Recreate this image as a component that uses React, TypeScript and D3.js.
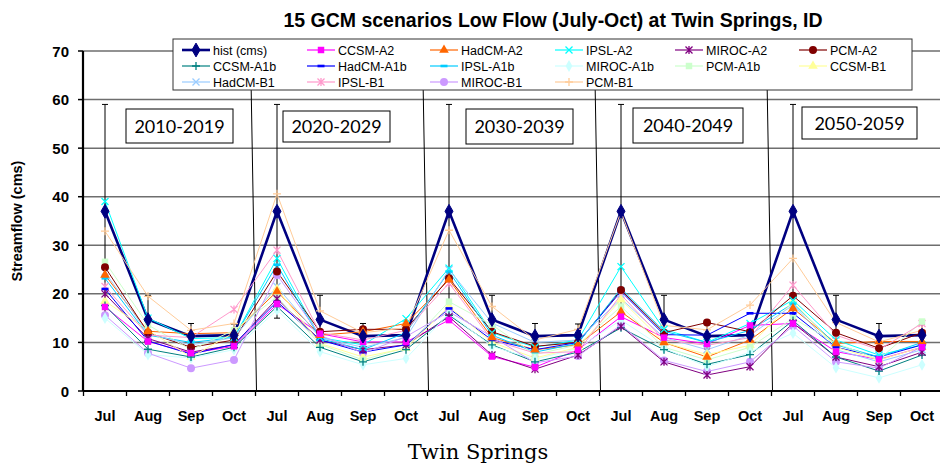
import * as d3 from "d3";

const W = 940;
const H = 464;

const months = ["Jul", "Aug", "Sep", "Oct"];
const decades = ["2010-2019", "2020-2029", "2030-2039", "2040-2049", "2050-2059"];
const yTicks = [0, 10, 20, 30, 40, 50, 60, 70];

// hist (cms) with its whiskers, repeated in each decade panel
const hist = [37, 14.7, 11.3, 11.5, 37, 14.7, 11.3, 11.5, 37, 14.7, 11.3, 11.5, 37, 14.7, 11.3, 11.5, 37, 14.7, 11.3, 11.5];
const histErr = [22, 5, 2.6, 2.3, 22, 5, 2.6, 2.3, 22, 5, 2.6, 2.3, 22, 5, 2.6, 2.3, 22, 5, 2.6, 2.3];

const ccsmA2 = [17.3, 10.2, 7.8, 9.2, 17.9, 11.8, 10.1, 10.1, 14.6, 7.1, 4.9, 8.5, 15.3, 11.0, 9.7, 13.5, 13.9, 8.1, 6.5, 9.0];
const hadcmA2 = [23.9, 12.3, 11.8, 12.0, 20.5, 11.5, 12.2, 13.9, 22.9, 11.0, 8.5, 9.5, 16.3, 10.0, 7.0, 10.5, 17.0, 9.8, 10.2, 10.2];
const ipslA2 = [39, 15, 10.8, 11.0, 27.3, 11.0, 9.5, 14.9, 25.3, 12.0, 9.0, 10.5, 25.6, 12.7, 10.0, 13.9, 18.7, 10.5, 7.4, 9.5];
const mirocA2 = [20, 10.8, 8.0, 9.5, 19.0, 10.5, 8.5, 9.5, 15.3, 7.4, 4.5, 7.4, 13.3, 6.0, 3.3, 5.0, 14.0, 7.0, 5.0, 8.0];
const pcmA2 = [25.5, 12.0, 9.0, 10.5, 24.6, 12.2, 12.7, 12.7, 23.2, 12.2, 9.2, 10.0, 20.8, 12.0, 14.1, 12.2, 19.6, 12.0, 8.8, 12.0];
const ccsmA1b = [17.6, 8.6, 7.0, 9.0, 17.4, 9.0, 6.0, 8.5, 15.6, 9.5, 6.0, 8.0, 13.0, 8.5, 5.5, 7.5, 14.5, 7.0, 4.1, 7.4];
const hadcmA1b = [21, 10.3, 7.6, 9.6, 18.4, 10.5, 8.0, 9.5, 17.0, 10.5, 8.5, 10.0, 20.5, 11.6, 11.5, 16.0, 16.0, 9.0, 7.0, 9.5];
const ipslA1b = [23.2, 11.5, 10.0, 11.0, 26.0, 10.8, 8.5, 12.0, 24.6, 11.5, 8.0, 9.8, 21.1, 12.3, 10.0, 12.5, 18.0, 9.5, 7.0, 10.0];
const mirocA1b = [15, 7.5, 6.8, 8.5, 16.7, 8.1, 5.4, 6.7, 16.0, 9.2, 6.5, 8.8, 14.6, 8.8, 5.0, 8.0, 11.9, 4.8, 2.7, 5.4];
const pcmA1b = [26.6, 13.6, 8.5, 12.5, 19.4, 9.6, 6.4, 9.0, 18.4, 13.6, 7.5, 9.5, 17.4, 9.0, 6.4, 9.0, 15.0, 9.8, 6.5, 14.3];
const ccsmB1 = [18.5, 12.5, 7.0, 12.0, 21.0, 9.8, 7.0, 8.8, 17.4, 10.0, 6.8, 9.0, 18.8, 10.0, 7.5, 9.4, 18.4, 9.0, 6.4, 9.0];
const hadcmB1 = [24.5, 11.8, 9.5, 11.0, 21.5, 11.0, 9.0, 11.0, 25.0, 14.0, 10.0, 10.5, 19.0, 11.0, 8.5, 11.5, 17.7, 8.5, 6.0, 8.5];
const ipslB1 = [21.5, 11.5, 11.0, 16.8, 29.0, 12.0, 10.5, 12.5, 22.2, 10.5, 7.8, 8.1, 19.8, 10.5, 9.4, 11.0, 21.8, 11.5, 8.5, 13.9];
const mirocB1 = [15.6, 7.8, 4.7, 6.4, 23.9, 11.5, 7.8, 11.2, 16.3, 11.2, 5.8, 7.2, 13.6, 6.3, 4.0, 6.0, 13.4, 6.0, 4.7, 9.1];
const pcmB1 = [32.9, 19.5, 12.5, 13.9, 40.6, 16.5, 12.0, 13.0, 33.1, 17.4, 10.5, 12.7, 36.9, 13.5, 12.6, 17.7, 27.3, 14.1, 10.1, 12.5];

type Mark = "diamond" | "square" | "triangle" | "x" | "asterisk" | "circle" | "plus" | "dash";
interface Series { name: string; values: number[]; color: string; mark: Mark; }

const series: Series[] = [
  { name: "hist (cms)", values: hist, color: "#000080", mark: "diamond" },
  { name: "CCSM-A2", values: ccsmA2, color: "#FF00FF", mark: "square" },
  { name: "HadCM-A2", values: hadcmA2, color: "#FF6600", mark: "triangle" },
  { name: "IPSL-A2", values: ipslA2, color: "#00FFFF", mark: "x" },
  { name: "MIROC-A2", values: mirocA2, color: "#800080", mark: "asterisk" },
  { name: "PCM-A2", values: pcmA2, color: "#800000", mark: "circle" },
  { name: "CCSM-A1b", values: ccsmA1b, color: "#008080", mark: "plus" },
  { name: "HadCM-A1b", values: hadcmA1b, color: "#0000FF", mark: "dash" },
  { name: "IPSL-A1b", values: ipslA1b, color: "#00CCFF", mark: "dash" },
  { name: "MIROC-A1b", values: mirocA1b, color: "#CCFFFF", mark: "diamond" },
  { name: "PCM-A1b", values: pcmA1b, color: "#CCFFCC", mark: "square" },
  { name: "CCSM-B1", values: ccsmB1, color: "#FFFF99", mark: "triangle" },
  { name: "HadCM-B1", values: hadcmB1, color: "#99CCFF", mark: "x" },
  { name: "IPSL-B1", values: ipslB1, color: "#FF99CC", mark: "asterisk" },
  { name: "MIROC-B1", values: mirocB1, color: "#CC99FF", mark: "circle" },
  { name: "PCM-B1", values: pcmB1, color: "#FFCC99", mark: "plus" },
];

const categories = d3.range(20);
const x = d3.scaleBand<number>().domain(categories).range([83.5, 943.5]);
const y = d3.scaleLinear().domain([0, 70]).range([391, 51]);
const cx = (i: number) => (x(i) as number) + x.bandwidth() / 2;

const sym = (type: d3.SymbolType, size: number) => d3.symbol().type(type).size(size)() as string;

function Marker({ mark, color, big }: { mark: Mark; color: string; big?: boolean }) {
  switch (mark) {
    case "diamond":
      return <path d={sym(d3.symbolDiamond, big ? 55 : 40)} fill={color} stroke={color} strokeWidth={big ? 1 : 0} />;
    case "square":
      return <path d={sym(d3.symbolSquare, 42)} fill={color} />;
    case "triangle":
      return <path d={sym(d3.symbolTriangle, 40)} fill={color} />;
    case "circle":
      return <path d={sym(d3.symbolCircle, 50)} fill={color} />;
    case "x":
      return <path d="M-3.5,-3.5L3.5,3.5M-3.5,3.5L3.5,-3.5" stroke={color} strokeWidth={1.3} fill="none" />;
    case "asterisk":
      return <path d="M-3.5,-3.5L3.5,3.5M-3.5,3.5L3.5,-3.5M0,-4V4" stroke={color} strokeWidth={1.3} fill="none" />;
    case "plus":
      return <path d="M-4,0H4M0,-4V4" stroke={color} strokeWidth={1.3} fill="none" />;
    case "dash":
      return <rect x={-3.5} y={-1.3} width={7} height={2.6} fill={color} />;
  }
}

const decadeBoxes = [
  { x0: 126, y0: 109, w: 107, h: 34 },
  { x0: 283, y0: 111, w: 107, h: 31 },
  { x0: 466, y0: 109, w: 107, h: 35 },
  { x0: 633, y0: 108, w: 110, h: 35 },
  { x0: 802, y0: 107, w: 115, h: 32 },
];

export default function App() {
  const line = d3.line<number>().x((_, i) => cx(i)).y((v) => y(v));
  const dividers = [4, 8, 12, 16].map((i) => x(i) as number);

  const legendCols = [182, 307, 430, 555, 675, 799];
  const legendRows = [50, 66, 82];

  return (
    <svg width={W} height={H} style={{ position: "absolute", left: 0, top: 0, background: "#fff" }} fontFamily="Arial, 'Liberation Sans', sans-serif">
      <rect width={W} height={H} fill="#fff" />
      <text x={553} y={27} textAnchor="middle" fontWeight="bold" fontSize={19.5}>
        15 GCM scenarios Low Flow (July-Oct) at Twin Springs, ID
      </text>

      {yTicks.map((t) => (
        <g key={t}>
          {t > 0 && <line x1={83} x2={W} y1={y(t)} y2={y(t)} stroke="#6e6e6e" strokeWidth={1.5} />}
          <line x1={78} x2={83} y1={y(t)} y2={y(t)} stroke="#000" strokeWidth={1.5} />
          <text x={69} y={y(t) + 5.5} textAnchor="end" fontWeight="bold" fontSize={15}>{t}</text>
        </g>
      ))}

      {dividers.map((d, i) => (
        <line key={i} x1={d - 5} y1={y(70)} x2={d + 1} y2={y(0)} stroke="#000" strokeWidth={1} />
      ))}

      {series.map((s, si) => (
        <path key={s.name} d={line(s.values) as string} fill="none" stroke={s.color} strokeWidth={si === 0 ? 2.6 : 1} />
      ))}

      {hist.map((v, i) => (
        <g key={i} stroke="#000" strokeWidth={1}>
          <line x1={cx(i)} x2={cx(i)} y1={y(v + histErr[i])} y2={y(v - histErr[i])} />
          <line x1={cx(i) - 3} x2={cx(i) + 3} y1={y(v + histErr[i])} y2={y(v + histErr[i])} />
          <line x1={cx(i) - 3} x2={cx(i) + 3} y1={y(v - histErr[i])} y2={y(v - histErr[i])} />
        </g>
      ))}

      {series.slice().reverse().map((s) => (
        <g key={s.name}>
          {s.values.map((v, i) => (
            <g key={i} transform={`translate(${cx(i)},${y(v)})`}>
              <Marker mark={s.mark} color={s.color} big={s.name === "hist (cms)"} />
            </g>
          ))}
        </g>
      ))}

      <line x1={83} x2={83} y1={y(70)} y2={y(0)} stroke="#000" strokeWidth={2.2} />
      <line x1={83} x2={W} y1={y(0)} y2={y(0)} stroke="#000" strokeWidth={2.2} />
      {d3.range(21).map((i) => (
        <line key={i} x1={83.5 + i * x.step()} x2={83.5 + i * x.step()} y1={y(0)} y2={y(0) + 5} stroke="#000" strokeWidth={1.3} />
      ))}
      {categories.map((i) => (
        <text key={i} x={cx(i)} y={421} textAnchor="middle" fontWeight="bold" fontSize={14.5}>
          {months[i % 4]}
        </text>
      ))}

      <text transform={`translate(22,${y(35)}) rotate(-90)`} textAnchor="middle" fontWeight="bold" fontSize={14.5}>
        Streamflow (cms)
      </text>

      {decadeBoxes.map((b, i) => (
        <g key={i}>
          <rect x={b.x0} y={b.y0} width={b.w} height={b.h} fill="#fff" stroke="#000" strokeWidth={1} />
          <text x={b.x0 + b.w / 2} y={b.y0 + b.h / 2 + 6.5} textAnchor="middle" fontSize={18} fontFamily="Lato, 'Open Sans', sans-serif">
            {decades[i]}
          </text>
        </g>
      ))}

      <rect x={173} y={39} width={739} height={51} fill="#fff" stroke="#333" strokeWidth={1} />
      {series.map((s, i) => {
        const lx = legendCols[i % 6];
        const ly = legendRows[Math.floor(i / 6)];
        return (
          <g key={s.name}>
            <line x1={lx} x2={lx + 28} y1={ly} y2={ly} stroke={s.color} strokeWidth={i === 0 ? 2.6 : 1.2} />
            <g transform={`translate(${lx + 14},${ly})`}>
              <Marker mark={s.mark} color={s.color} big={i === 0} />
            </g>
            <text x={lx + 31} y={ly + 4.5} fontSize={12.5}>{s.name}</text>
          </g>
        );
      })}

      <text x={478} y={459} textAnchor="middle" fontSize={21} fontFamily="'DejaVu Serif', 'Liberation Serif', serif">
        Twin Springs
      </text>
    </svg>
  );
}
